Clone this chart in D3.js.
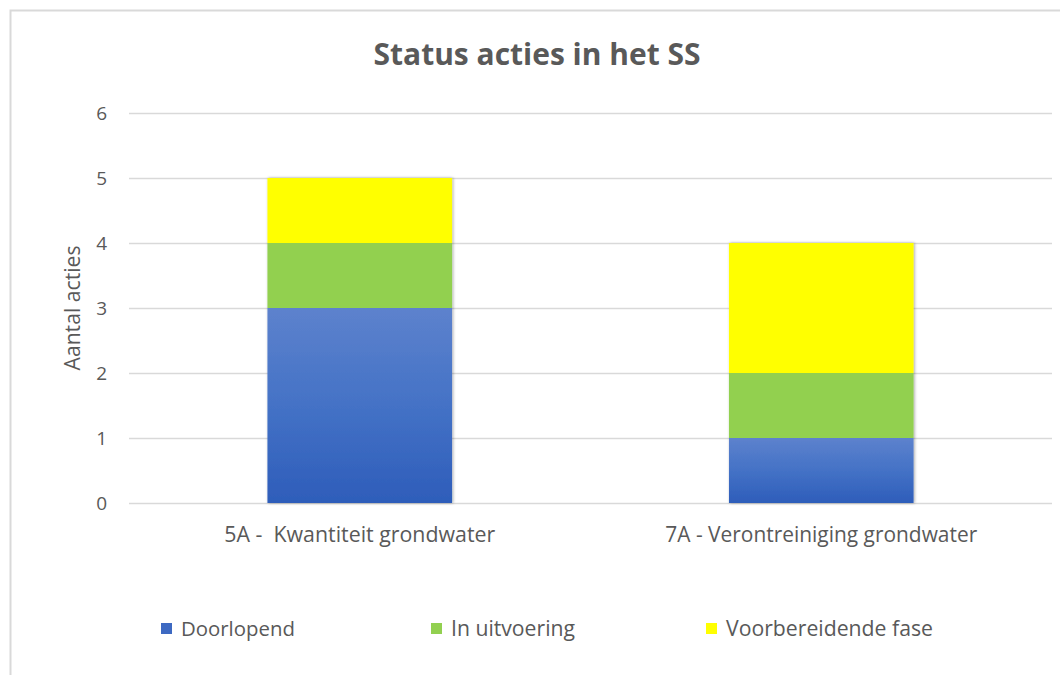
<!DOCTYPE html>
<html>
<head>
<meta charset="utf-8">
<script src="https://cdn.jsdelivr.net/npm/d3@7"></script>
<style>
  html, body { margin: 0; padding: 0; background: #fff; }
  svg { display: block; }
  text { font-family: "Open Sans", "Liberation Sans", sans-serif; fill: #595959; }
</style>
</head>
<body>
<svg id="chart" width="1060" height="675"></svg>
<script>
// ---- data ----
const categories = ["5A -  Kwantiteit grondwater", "7A - Verontreiniging grondwater"];
const seriesNames = ["Doorlopend", "In uitvoering", "Voorbereidende fase"];
const doorlopend = [3, 1];
const inUitvoering = [1, 1];
const voorbereidendeFase = [1, 2];
const yTickValues = [0, 1, 2, 3, 4, 5, 6];
const titleText = "Status acties in het SS";
const yAxisTitle = "Aantal acties";

// ---- build table ----
const table = categories.map((c, i) => ({
  cat: c,
  "Doorlopend": doorlopend[i],
  "In uitvoering": inUitvoering[i],
  "Voorbereidende fase": voorbereidendeFase[i]
}));

const svg = d3.select("#chart");
const W = 1060, H = 675;
const plot = { left: 129, right: 1052, top: 113, bottom: 503 };

// helper: fit font-size so text width matches target
function fit(sel, target) {
  const node = sel.node();
  const fs = parseFloat(sel.attr("font-size"));
  const w = node.getComputedTextLength();
  if (w > 0) sel.attr("font-size", (fs * target / w).toFixed(2));
  return sel;
}

// defs
const defs = svg.append("defs");
const grad = defs.append("linearGradient").attr("id", "blueGrad")
  .attr("x1", 0).attr("y1", 0).attr("x2", 0).attr("y2", 1);
grad.append("stop").attr("offset", "0%").attr("stop-color", "#5d82cd");
grad.append("stop").attr("offset", "50%").attr("stop-color", "#4472c6");
grad.append("stop").attr("offset", "100%").attr("stop-color", "#2e5dba");
const shadow = defs.append("filter").attr("id", "shadow")
  .attr("x", "-10%").attr("y", "-10%").attr("width", "120%").attr("height", "120%");
shadow.append("feDropShadow").attr("dx", 1).attr("dy", 0).attr("stdDeviation", 1.8)
  .attr("flood-color", "#000").attr("flood-opacity", 0.35);

// border of chart area
svg.append("rect").attr("x", 10.5).attr("y", 10.5).attr("width", W + 20).attr("height", H + 20)
  .attr("fill", "#fff").attr("stroke", "#d9d9d9").attr("stroke-width", 2);

const colors = {
  "Doorlopend": "url(#blueGrad)",
  "In uitvoering": "#92d050",
  "Voorbereidende fase": "#ffff00"
};
const legendColors = {
  "Doorlopend": "#3d69c2",
  "In uitvoering": "#92d050",
  "Voorbereidende fase": "#ffff00"
};

// scales
const y = d3.scaleLinear().domain([0, 6]).range([plot.bottom, plot.top]);
const x = d3.scaleBand().domain(categories).range([plot.left, plot.right])
  .paddingInner(0.6).paddingOuter(0.3);

// gridlines
svg.append("g").selectAll("line").data(yTickValues).join("line")
  .attr("x1", plot.left).attr("x2", plot.right)
  .attr("y1", d => Math.round(y(d)) + 0.5).attr("y2", d => Math.round(y(d)) + 0.5)
  .attr("stroke", "#d9d9d9").attr("stroke-width", 1.6);

// y axis
const yAxis = svg.append("g").attr("transform", `translate(${plot.left},0)`)
  .call(d3.axisLeft(y).tickValues(yTickValues).tickSize(0).tickPadding(22).tickFormat(d3.format("d")));
yAxis.select(".domain").remove();
yAxis.selectAll("text").attr("font-size", 19).attr("font-family", null).attr("fill", "#595959")
  .style("font-family", '"Open Sans", sans-serif');

// stacked bars
const stack = d3.stack().keys(seriesNames);
const stacked = stack(table);
const barG = svg.append("g").attr("filter", "url(#shadow)");
stacked.forEach(layer => {
  barG.append("g").selectAll("rect").data(layer).join("rect")
    .attr("x", d => x(d.data.cat))
    .attr("width", x.bandwidth())
    .attr("y", d => y(d[1]))
    .attr("height", d => y(d[0]) - y(d[1]))
    .attr("fill", colors[layer.key]);
});

// x axis labels
const xAxis = svg.append("g").attr("transform", `translate(0,${plot.bottom})`)
  .call(d3.axisBottom(x).tickSize(0));
xAxis.select(".domain").remove();
xAxis.selectAll("text")
  .attr("y", 39).attr("dy", 0).attr("font-size", 18)
  .attr("fill", "#595959")
  .style("white-space", "pre")
  .style("font-family", '"Open Sans", sans-serif');
const xTargets = [271, 312];
xAxis.selectAll("text").each(function(d, i) { fit(d3.select(this), xTargets[i]); });

// title
fit(svg.append("text").attr("x", 537).attr("y", 65).attr("text-anchor", "middle")
  .attr("font-size", 24).attr("font-weight", "bold").attr("fill", "#595959")
  .text(titleText), 327);

// y axis title
fit(svg.append("text").attr("transform", `translate(80,${(plot.top + plot.bottom) / 2}) rotate(-90)`)
  .attr("text-anchor", "middle").attr("font-size", 18)
  .text(yAxisTitle), 125);

// legend
const legendX = [161, 431, 706];
const legendW = [114, 124, 207];
const lg = svg.append("g");
seriesNames.forEach((s, i) => {
  lg.append("rect").attr("x", legendX[i]).attr("y", 623).attr("width", 11).attr("height", 11)
    .attr("fill", legendColors[s]);
  fit(lg.append("text").attr("x", legendX[i] + 20).attr("y", 636).attr("font-size", 18).text(s), legendW[i]);
});
</script>
</body>
</html>
